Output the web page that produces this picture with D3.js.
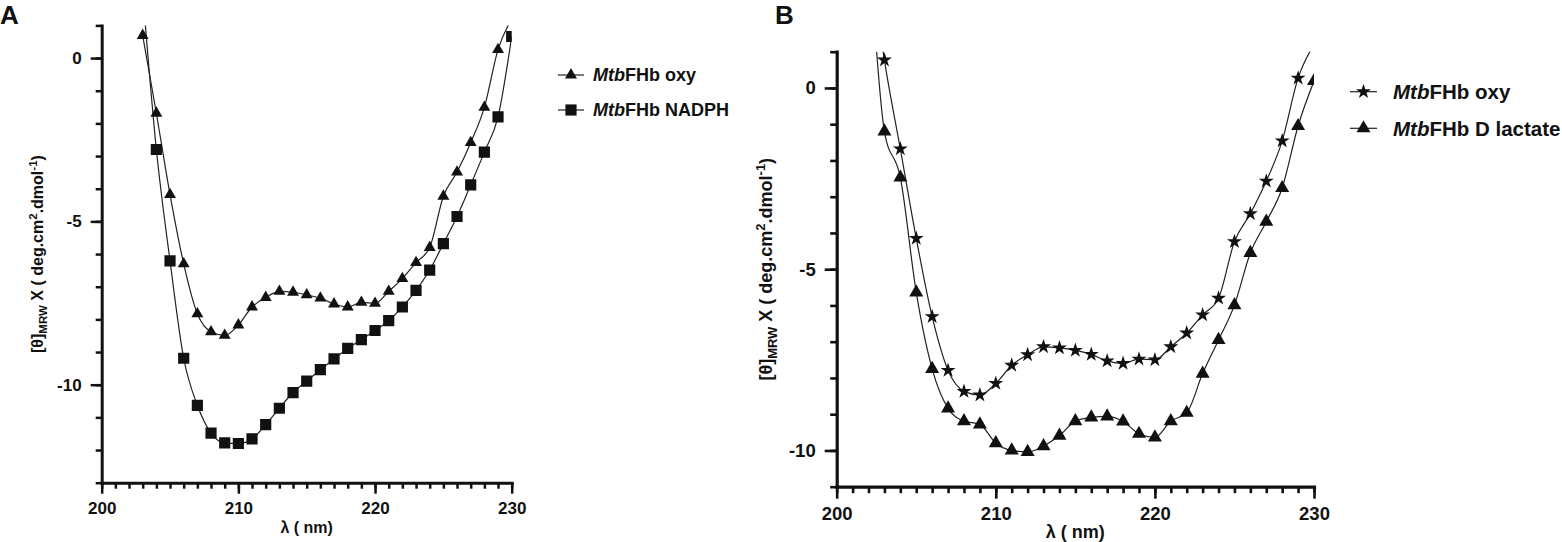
<!DOCTYPE html>
<html>
<head>
<meta charset="utf-8">
<script src="https://cdn.jsdelivr.net/npm/d3@7/dist/d3.min.js"></script>
<style>
  html, body { margin: 0; padding: 0; background: #fff; }
  svg { display: block; }
  text { font-family: "Liberation Sans", Arial, sans-serif; fill: #111; }
</style>
</head>
<body>
<svg id="chart" width="1562" height="542"></svg>
<script>
// ---------- DATA ----------
const xTicks = [200, 210, 220, 230];
const yTicksA = [0, -5, -10];
const yTicksB = [0, -5, -10];

// Panel A
const wavelengthA_oxy = [203,204,205,206,207,208,209,210,211,212,213,214,215,216,217,218,219,220,221,222,223,224,225,226,227,228,229,230];
const oxyA = [0.69,-1.69,-4.18,-6.30,-7.83,-8.38,-8.49,-8.17,-7.62,-7.33,-7.14,-7.17,-7.25,-7.35,-7.53,-7.62,-7.48,-7.51,-7.14,-6.75,-6.26,-5.80,-4.23,-3.49,-2.59,-1.51,0.26,1.2];
const wavelengthA_nadph = [203,204,205,206,207,208,209,210,211,212,213,214,215,216,217,218,219,220,221,222,223,224,225,226,227,228,229,230];
const nadphA = [2.0,-2.80,-6.21,-9.19,-10.63,-11.48,-11.78,-11.80,-11.66,-11.22,-10.72,-10.24,-9.89,-9.54,-9.21,-8.89,-8.62,-8.34,-8.04,-7.62,-7.11,-6.49,-5.68,-4.85,-3.88,-2.88,-1.80,0.66];

// Panel B
const wavelengthB_oxy = [202,203,204,205,206,207,208,209,210,211,212,213,214,215,216,217,218,219,220,221,222,223,224,225,226,227,228,229,230];
const oxyB = [4.0,0.77,-1.68,-4.15,-6.31,-7.79,-8.37,-8.47,-8.15,-7.65,-7.36,-7.14,-7.17,-7.24,-7.35,-7.53,-7.60,-7.48,-7.50,-7.14,-6.76,-6.26,-5.80,-4.24,-3.47,-2.57,-1.46,0.27,1.2];
const wavelengthB_lac = [202,203,204,205,206,207,208,209,210,211,212,213,214,215,216,217,218,219,220,221,222,223,224,225,226,227,228,229,230];
const lactateB = [4.3,-1.20,-2.47,-5.64,-7.75,-8.84,-9.19,-9.28,-9.80,-10.00,-10.04,-9.88,-9.59,-9.19,-9.09,-9.06,-9.20,-9.54,-9.64,-9.19,-8.96,-7.88,-6.95,-5.99,-4.55,-3.69,-2.76,-1.05,0.19];

const labelsA = ["FHb oxy", "FHb NADPH"];
const labelsB = ["FHb oxy", "FHb D lactate"];

// ---------- DRAW ----------
const svg = d3.select("#chart");

function zip(xs, ys) { return xs.map((x, i) => ({x, y: ys[i]})); }

function panel(cfg) {
  const x = d3.scaleLinear().domain([200, 230]).range([cfg.x0, cfg.x1]);
  const y = d3.scaleLinear().domain(cfg.yDomain).range([cfg.yBottom, cfg.yTop]);
  const g = svg.append("g");
  const clipId = "clip" + cfg.id;
  svg.append("defs").append("clipPath").attr("id", clipId)
    .append("rect").attr("x", cfg.x0).attr("y", cfg.yTop)
    .attr("width", cfg.x1 - cfg.x0).attr("height", cfg.yBottom - cfg.yTop);

  // series
  const line = d3.line().x(d => x(d.x)).y(d => y(d.y)).curve(d3.curveMonotoneX);
  const plot = g.append("g").attr("clip-path", `url(#${clipId})`);
  cfg.series.forEach(s => {
    const pts = zip(s.xs, s.ys);
    plot.append("path").datum(pts).attr("d", line)
      .attr("fill", "none").attr("stroke", "#222").attr("stroke-width", 1.2);
  });
  cfg.series.forEach(s => {
    const pts = zip(s.xs, s.ys);
    const inside = pts.filter(d => d.y <= cfg.yDomain[1] && d.y >= cfg.yDomain[0]);
    plot.selectAll(null).data(inside).enter().append("path")
      .attr("transform", d => `translate(${x(d.x)},${y(d.y)})`)
      .attr("d", d3.symbol().type(s.symbol).size(s.size))
      .attr("fill", "#111");
  });

  // axes: minor ticks
  const minorX = d3.range(200, 231, 1);
  const minorY = d3.range(cfg.yDomain[0], cfg.yDomain[1] + 1, 1);
  const gxMinor = g.append("g").attr("transform", `translate(0,${cfg.yBottom})`)
    .call(d3.axisBottom(x).tickValues(minorX).tickSize(cfg.minorLen).tickFormat("").tickSizeOuter(0));
  const gyMinor = g.append("g").attr("transform", `translate(${cfg.x0},0)`)
    .call(d3.axisLeft(y).tickValues(minorY).tickSize(cfg.minorLen).tickFormat("").tickSizeOuter(0));
  [gxMinor, gyMinor].forEach(a => {
    a.select(".domain").remove();
    a.selectAll(".tick line").attr("stroke", "#111").attr("stroke-width", cfg.tickW);
  });

  const gx = g.append("g").attr("transform", `translate(0,${cfg.yBottom})`)
    .call(d3.axisBottom(x).tickValues(xTicks).tickSize(cfg.majorLen).tickPadding(cfg.xPad).tickSizeOuter(0));
  const gy = g.append("g").attr("transform", `translate(${cfg.x0},0)`)
    .call(d3.axisLeft(y).tickValues(cfg.yTicks).tickSize(cfg.majorLen).tickPadding(cfg.yPad).tickSizeOuter(0));
  [gx, gy].forEach(a => {
    a.select(".domain").attr("stroke", "#111").attr("stroke-width", cfg.axisW).attr("stroke-linecap", "square");
    a.selectAll(".tick line").attr("stroke", "#111").attr("stroke-width", cfg.tickW);
    a.selectAll(".tick text").attr("font-family", "Liberation Sans, Arial, sans-serif")
      .attr("font-weight", "bold").attr("font-size", cfg.tickFont).attr("fill", "#111");
  });
  gy.selectAll(".tick text").text(d => d < 0 ? "-" + Math.abs(d) : d);

  // x title
  g.append("text").attr("x", (cfg.x0 + cfg.x1) / 2).attr("y", cfg.xTitleY)
    .attr("text-anchor", "middle").attr("font-weight", "bold").attr("font-size", cfg.titleFont)
    .text("λ ( nm)");

  // y title
  const yt = g.append("text")
    .attr("transform", `translate(${cfg.yTitleX},${(cfg.yTop + cfg.yBottom) / 2}) rotate(-90)`)
    .attr("text-anchor", "middle").attr("font-weight", "bold").attr("font-size", cfg.titleFont);
  yt.append("tspan").text("[θ]");
  yt.append("tspan").attr("font-size", cfg.titleFont * 0.72).attr("dy", cfg.titleFont * 0.25).text("MRW");
  yt.append("tspan").attr("dy", -cfg.titleFont * 0.25).text(" X ( deg.cm");
  yt.append("tspan").attr("font-size", cfg.titleFont * 0.72).attr("dy", -cfg.titleFont * 0.4).text("2");
  yt.append("tspan").attr("dy", cfg.titleFont * 0.4).text(".dmol");
  yt.append("tspan").attr("font-size", cfg.titleFont * 0.72).attr("dy", -cfg.titleFont * 0.4).text("-1");
  yt.append("tspan").attr("dy", cfg.titleFont * 0.4).text(")");

  // panel letter
  g.append("text").attr("x", cfg.letterX).attr("y", 24).attr("font-weight", "bold")
    .attr("font-size", 26).text(cfg.letter);

  // legend
  const lg = g.append("g");
  cfg.series.forEach((s, i) => {
    const ly = cfg.legY[i];
    lg.append("line").attr("x1", cfg.legLine[0]).attr("x2", cfg.legLine[1])
      .attr("y1", ly).attr("y2", ly).attr("stroke", "#222").attr("stroke-width", 1.2);
    lg.append("path").attr("transform", `translate(${(cfg.legLine[0] + cfg.legLine[1]) / 2},${ly})`)
      .attr("d", d3.symbol().type(s.symbol).size(s.size)).attr("fill", "#111");
    const t = lg.append("text").attr("x", cfg.legTextX).attr("y", ly).attr("dy", "0.36em")
      .attr("font-weight", "bold").attr("font-size", cfg.legFont);
    t.append("tspan").attr("font-style", "italic").text("Mtb");
    t.append("tspan").text(s.label);
  });
}

panel({
  id: "A", letter: "A", letterX: 0,
  x0: 101.7, x1: 511.7, yTop: 25.4, yBottom: 482.7, yDomain: [-13, 1], yTicks: yTicksA,
  majorLen: 11, minorLen: 6, axisW: 3, tickW: 2.5, xPad: 8, yPad: 9,
  tickFont: 17, titleFont: 16, xTitleY: 533, yTitleX: 43,
  legY: [75, 110], legLine: [558, 584], legTextX: 593, legFont: 18,
  series: [
    {xs: wavelengthA_oxy, ys: oxyA, symbol: d3.symbolTriangle, size: 62, label: labelsA[0]},
    {xs: wavelengthA_nadph, ys: nadphA, symbol: d3.symbolSquare, size: 125, label: labelsA[1]}
  ]
});

panel({
  id: "B", letter: "B", letterX: 775,
  x0: 836.7, x1: 1314, yTop: 51.7, yBottom: 486.7, yDomain: [-11, 1], yTicks: yTicksB,
  majorLen: 12, minorLen: 6.5, axisW: 3.2, tickW: 2.6, xPad: 8, yPad: 9,
  tickFont: 18.5, titleFont: 18, xTitleY: 538, yTitleX: 772,
  legY: [91.7, 128.3], legLine: [1350, 1377], legTextX: 1393, legFont: 20.5,
  series: [
    {xs: wavelengthB_oxy, ys: oxyB, symbol: d3.symbolStar, size: 70, label: labelsB[0]},
    {xs: wavelengthB_lac, ys: lactateB, symbol: d3.symbolTriangle, size: 85, label: labelsB[1]}
  ]
});
</script>
</body>
</html>
